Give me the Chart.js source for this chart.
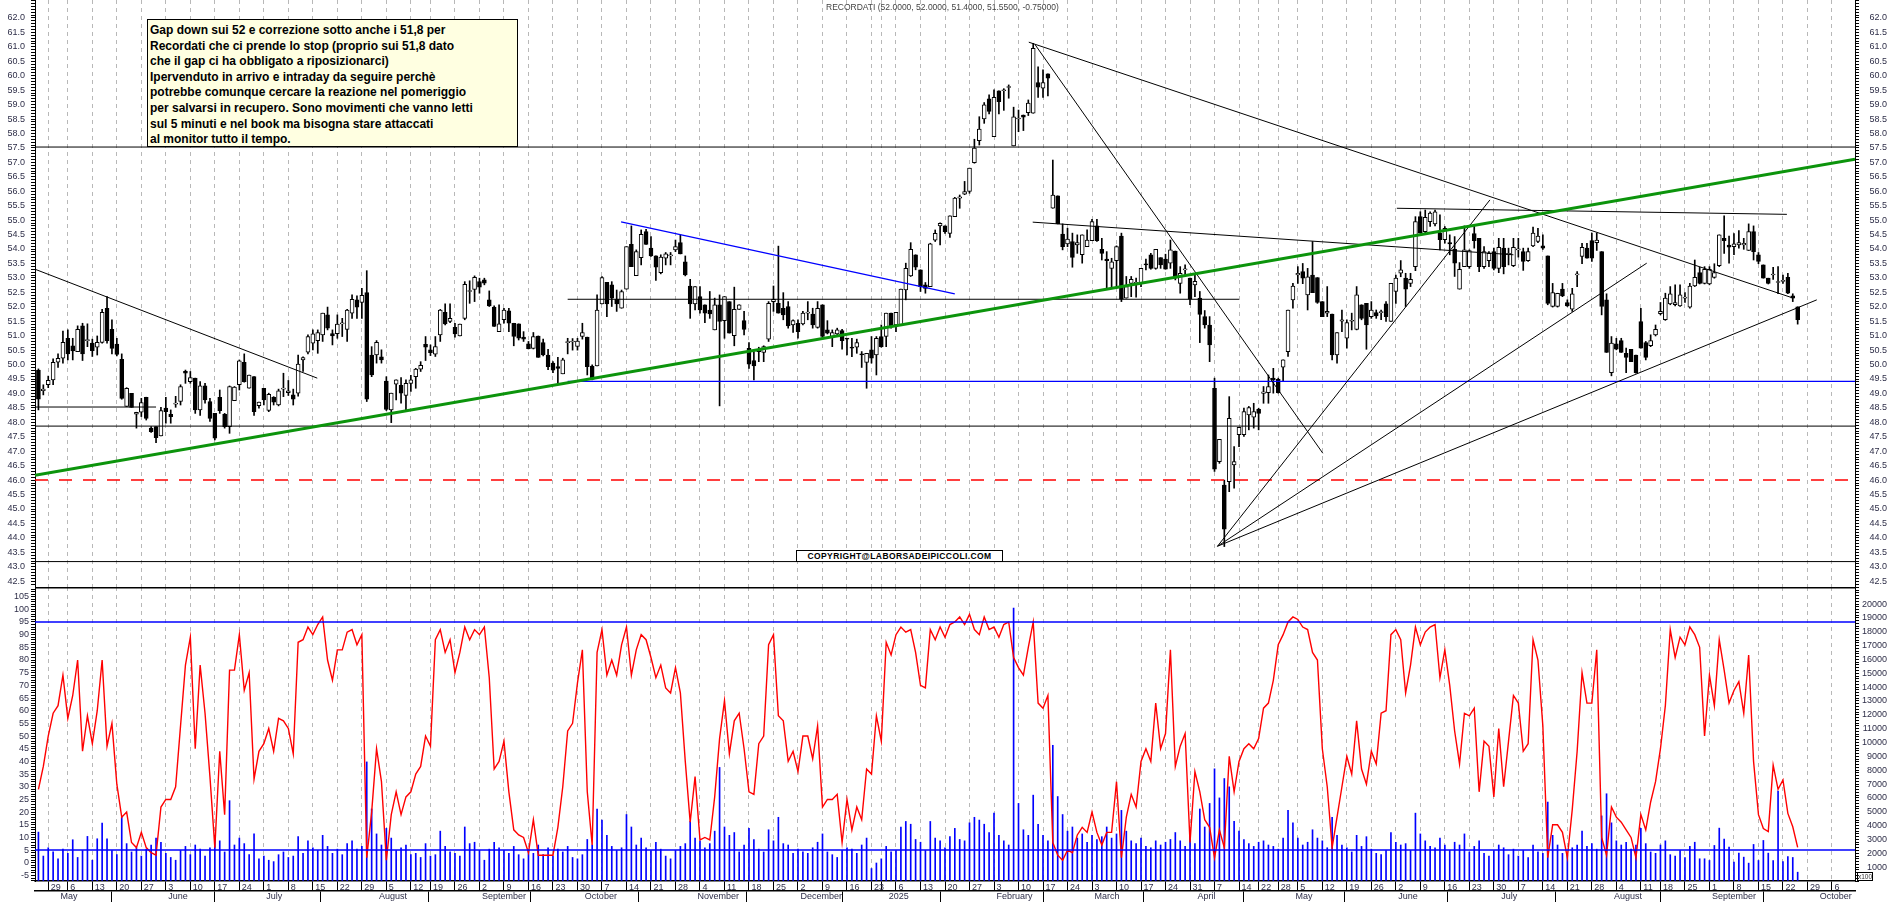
<!DOCTYPE html>
<html>
<head>
<meta charset="utf-8">
<script src="https://cdn.jsdelivr.net/npm/chart.js@4/dist/chart.umd.min.js"></script>
<style>
    html, body { margin: 0; padding: 0; background: #fff; }
    #wrap { position: relative; width: 1890px; height: 902px; overflow: hidden; }
    #price { position: absolute; left: 0; top: 0; }
    #lower { position: absolute; left: 0; top: 587px; }
    .title { position: absolute; left: 826px; top: 2px; font: 8.5px "Liberation Sans", Arial, sans-serif; color: #444; white-space: pre; }
    .note { position: absolute; left: 147px; top: 19px; width: 371px; height: 128px; box-sizing: border-box;
        background: #ffffe1; border: 1px solid #000; padding: 3px 0 0 2px; color: #000;
        font: bold 12px "Liberation Sans", Arial, sans-serif; line-height: 15.6px; white-space: pre; }
    .copy { position: absolute; left: 796px; top: 550px; width: 207px; height: 12px; box-sizing: border-box;
        background: #fff; border: 1px solid #000; font: bold 8.5px "Liberation Sans", Arial, sans-serif;
        line-height: 10px; letter-spacing: 0.4px; text-align: center; color: #000; }
    .x100 { position: absolute; left: 1857px; top: 872px; width: 16px; height: 9px; box-sizing: border-box;
        border: 1px solid #000; font: 6.5px "Liberation Sans", Arial, sans-serif; line-height: 7px; color: #333; }
</style>
</head>
<body>
<div id="wrap">
    <canvas id="price" width="1890" height="587"></canvas>
    <canvas id="lower" width="1890" height="315"></canvas>
    <div class="title">RECORDATI (52.0000, 52.0000, 51.4000, 51.5500, -0.75000)</div>
    <div class="note">Gap down sui 52 e correzione sotto anche i 51,8 per
Recordati che ci prende lo stop (proprio sui 51,8 dato
che il gap ci ha obbligato a riposizionarci)
Ipervenduto in arrivo e intraday da seguire perchè
potrebbe comunque cercare la reazione nel pomeriggio
per salvarsi in recupero. Sono movimenti che vanno letti
sul 5 minuti e nel book ma bisogna stare attaccati
al monitor tutto il tempo.</div>
    <div class="copy">COPYRIGHT@LABORSADEIPICCOLI.COM</div>
    <div class="x100">x100</div>
</div>
<script>
// Daily candles, one value per trading day starting 25 April 2024
const openP = [
    49.81, 49.10, 49.30, 49.47, 50.08, 50.22, 50.91, 50.65, 50.45, 51.34, 50.83, 50.74, 50.60, 50.77, 51.95, 51.22, 50.71, 50.18, 48.55, 49.00,
    48.28, 48.35, 48.87, 47.80, 47.85, 47.53, 48.49, 48.28, 48.63, 48.72, 49.77, 49.41, 49.53, 48.43, 49.26, 48.72, 48.31, 48.87, 48.28, 47.85,
    48.75, 49.30, 50.08, 49.18, 49.58, 48.58, 49.18, 48.41, 48.87, 48.60, 49.15, 49.03, 48.95, 49.01, 50.16, 50.43, 50.74, 50.83, 51.03, 51.72,
    51.07, 51.07, 51.41, 51.22, 51.78, 52.24, 52.15, 52.49, 50.33, 50.33, 50.27, 49.43, 48.43, 49.32, 49.28, 48.93, 49.35, 49.58, 49.84, 50.70,
    50.51, 50.36, 51.03, 51.81, 51.49, 51.29, 50.99, 51.60, 52.53, 52.60, 52.87, 52.93, 52.24, 51.99, 51.14, 51.55, 51.86, 51.43, 51.41, 50.95,
    50.72, 50.56, 50.99, 50.76, 50.33, 50.05, 49.93, 49.68, 50.76, 50.78, 50.63, 50.97, 50.95, 49.95, 49.95, 52.10, 52.85, 52.76, 52.26, 51.95,
    52.61, 54.16, 53.08, 53.70, 54.60, 54.03, 53.76, 53.18, 53.68, 53.76, 53.97, 54.22, 53.56, 52.72, 52.10, 52.35, 52.07, 51.89, 51.20, 52.07,
    51.52, 52.18, 51.00, 51.91, 51.52, 50.56, 50.14, 50.45, 50.42, 50.88, 52.18, 52.12, 51.95, 52.01, 51.37, 51.43, 51.41, 51.78, 51.75, 51.29,
    52.07, 51.20, 50.97, 51.06, 51.18, 50.91, 50.60, 50.60, 50.37, 50.07, 50.51, 50.33, 50.97, 50.97, 51.78, 51.37, 51.37, 52.58, 53.07, 53.80,
    53.28, 52.76, 52.70, 54.31, 54.80, 54.80, 54.54, 55.12, 55.76, 55.90, 55.99, 56.99, 57.75, 58.50, 59.20, 57.89, 59.48, 59.48, 59.59, 57.57,
    58.50, 58.64, 58.72, 58.70, 59.76, 59.57, 60.06, 55.41, 55.84, 54.52, 54.18, 54.26, 54.14, 53.80, 54.08, 54.29, 54.80, 53.99, 53.65, 53.33,
    53.60, 54.45, 52.30, 52.81, 52.81, 52.81, 53.47, 53.80, 53.33, 53.70, 53.65, 53.51, 53.93, 52.81, 53.28, 52.99, 52.76, 52.30, 51.66, 51.37,
    49.18, 46.64, 45.83, 45.95, 46.53, 47.57, 47.57, 48.26, 48.18, 48.45, 49.00, 49.03, 49.53, 49.49, 49.91, 50.45, 52.24, 53.10, 53.22, 52.41,
    53.10, 53.01, 52.18, 51.78, 51.75, 50.33, 51.50, 50.91, 51.50, 51.22, 52.07, 52.12, 51.66, 51.80, 51.80, 52.10, 51.49, 52.53, 53.16, 52.99,
    52.81, 53.39, 55.12, 54.60, 54.95, 54.87, 54.55, 54.32, 54.22, 53.99, 52.61, 53.39, 53.39, 54.53, 54.37, 53.39, 53.60, 53.91, 53.33, 54.03,
    53.80, 53.42, 53.97, 53.91, 53.60, 54.11, 54.26, 54.11, 53.76, 52.01, 52.01, 52.61, 52.15, 51.92, 53.10, 53.74, 54.03, 54.29, 54.22, 53.91,
    52.24, 49.72, 50.72, 50.83, 50.39, 50.53, 50.33, 51.49, 50.76, 50.65, 51.03, 51.76, 51.55, 52.10, 52.07, 52.03, 52.30, 51.99, 52.72, 53.18,
    52.81, 52.79, 53.02, 53.42, 54.37, 54.14, 54.08, 54.14, 54.14, 53.95, 54.60, 53.80, 53.45, 52.99, 53.10, 52.84, 52.88, 53.02, 52.38, 52.00
];
const highP = [
    49.85, 49.30, 49.60, 50.20, 50.37, 51.16, 51.20, 50.91, 51.34, 51.43, 51.41, 50.88, 50.99, 51.91, 52.35, 51.55, 50.91, 50.37, 49.20, 49.00,
    48.35, 48.83, 48.87, 47.85, 47.85, 48.52, 48.87, 48.43, 48.90, 49.30, 49.81, 49.76, 49.53, 49.41, 49.35, 48.83, 48.31, 49.12, 48.31, 49.26,
    49.24, 50.16, 50.37, 49.64, 49.58, 48.70, 49.18, 49.01, 48.89, 49.15, 49.70, 49.45, 49.15, 50.33, 50.27, 51.03, 51.20, 51.20, 51.78, 51.99,
    51.20, 51.72, 51.60, 51.91, 52.41, 52.38, 52.64, 53.25, 50.62, 50.83, 50.51, 49.58, 49.01, 49.47, 49.55, 49.47, 49.63, 49.87, 50.10, 50.97,
    50.68, 50.97, 51.91, 52.10, 52.10, 51.43, 51.40, 52.87, 52.90, 53.07, 52.99, 52.99, 52.55, 52.03, 52.07, 51.95, 51.95, 51.43, 51.41, 51.14,
    50.80, 51.11, 50.99, 50.88, 50.53, 50.10, 50.25, 50.22, 50.91, 50.90, 50.91, 51.43, 50.95, 49.99, 52.41, 53.05, 52.85, 52.87, 52.58, 52.58,
    54.08, 54.80, 53.97, 54.66, 54.68, 54.43, 53.76, 53.80, 53.88, 53.88, 54.31, 54.49, 53.76, 52.95, 52.70, 52.70, 52.07, 52.53, 52.30, 52.41,
    52.35, 52.18, 52.68, 52.07, 51.84, 50.76, 50.45, 50.60, 50.65, 52.18, 52.72, 54.10, 52.49, 52.18, 51.55, 51.55, 51.84, 52.18, 51.95, 52.18,
    52.07, 51.52, 51.20, 51.26, 51.22, 50.91, 50.91, 50.88, 50.45, 50.39, 50.97, 50.97, 51.37, 51.78, 51.78, 51.81, 52.61, 53.51, 54.22, 53.80,
    53.28, 52.84, 54.20, 54.66, 54.91, 54.80, 55.15, 55.79, 55.87, 56.34, 56.80, 57.80, 58.58, 59.07, 59.34, 59.51, 59.48, 59.55, 59.68, 58.91,
    58.81, 58.64, 59.16, 61.12, 60.31, 60.20, 60.06, 57.08, 55.84, 54.87, 54.72, 54.55, 54.49, 54.49, 54.66, 55.03, 55.03, 54.37, 53.91, 53.68,
    54.11, 54.55, 53.05, 53.05, 52.99, 53.33, 53.65, 53.85, 53.99, 53.70, 53.82, 54.31, 53.93, 53.39, 53.45, 52.99, 53.16, 52.53, 51.87, 51.66,
    49.53, 47.41, 46.00, 48.89, 47.16, 47.83, 48.49, 48.55, 48.66, 48.49, 49.24, 49.64, 49.87, 49.53, 50.16, 51.89, 52.81, 53.39, 53.50, 53.33,
    54.26, 53.01, 52.18, 52.70, 51.75, 51.11, 51.89, 51.55, 51.78, 52.70, 52.07, 52.12, 52.18, 51.89, 51.89, 52.18, 52.81, 53.10, 53.60, 53.16,
    53.16, 55.12, 55.29, 55.35, 55.29, 55.35, 55.18, 54.78, 54.49, 54.43, 53.53, 54.80, 53.97, 54.80, 54.37, 54.08, 53.91, 54.03, 54.37, 54.37,
    54.03, 54.37, 54.37, 54.03, 54.03, 54.76, 54.72, 54.49, 53.76, 52.81, 52.47, 52.81, 52.24, 52.64, 53.22, 54.20, 54.20, 54.55, 54.55, 53.91,
    52.45, 50.97, 50.91, 50.91, 50.57, 50.53, 50.33, 51.95, 50.80, 51.03, 51.37, 52.15, 52.47, 52.70, 52.76, 52.76, 52.49, 52.81, 53.62, 53.37,
    53.39, 53.39, 53.49, 54.49, 55.15, 54.45, 54.53, 54.64, 54.37, 54.87, 54.80, 53.88, 53.45, 52.99, 53.37, 53.39, 53.10, 53.16, 52.45, 52.00
];
const lowP = [
    48.43, 48.95, 49.20, 49.30, 49.90, 50.05, 50.16, 50.16, 50.45, 50.14, 50.62, 50.28, 50.33, 50.74, 50.74, 50.37, 50.30, 48.80, 48.55, 48.52,
    47.80, 48.20, 48.08, 47.65, 47.30, 47.53, 47.97, 47.97, 48.52, 48.60, 49.35, 49.35, 48.31, 48.24, 48.66, 48.03, 47.39, 48.31, 47.80, 47.62,
    48.75, 49.12, 49.39, 49.18, 48.24, 48.49, 48.60, 48.37, 48.60, 48.57, 48.89, 48.93, 48.60, 48.91, 49.76, 50.37, 50.51, 50.39, 50.80, 51.20,
    50.68, 50.91, 50.97, 50.80, 51.60, 51.60, 51.60, 48.72, 49.58, 50.05, 50.05, 48.41, 47.99, 48.78, 48.66, 48.43, 49.07, 49.18, 49.76, 50.14,
    50.31, 50.28, 50.80, 51.37, 51.45, 50.95, 50.99, 51.55, 52.12, 52.18, 52.47, 52.76, 52.01, 51.32, 51.14, 51.43, 51.14, 50.65, 50.85, 50.80,
    50.54, 50.54, 50.25, 50.30, 49.82, 49.72, 49.35, 49.68, 50.37, 50.50, 50.50, 50.88, 49.64, 49.47, 49.95, 52.10, 51.66, 52.01, 51.84, 51.95,
    52.61, 53.39, 53.08, 53.45, 54.16, 53.74, 52.91, 53.14, 53.45, 53.45, 53.91, 53.83, 53.07, 51.60, 51.89, 51.78, 51.45, 51.60, 51.20, 48.57,
    50.91, 51.09, 50.65, 51.91, 51.03, 49.87, 49.47, 50.10, 50.10, 50.80, 51.84, 51.78, 51.55, 51.26, 51.11, 50.91, 51.37, 51.55, 51.26, 51.26,
    50.88, 51.06, 50.62, 51.03, 50.53, 50.33, 50.27, 50.39, 49.90, 49.18, 50.05, 49.64, 50.60, 50.62, 51.26, 51.14, 51.37, 52.24, 53.05, 53.28,
    52.53, 52.47, 52.70, 54.26, 54.14, 54.54, 54.40, 55.12, 55.41, 55.88, 55.93, 56.97, 57.60, 58.35, 58.68, 57.89, 58.68, 58.80, 59.22, 57.57,
    58.06, 58.10, 58.62, 58.70, 59.25, 59.25, 59.30, 55.41, 54.87, 53.97, 54.08, 53.37, 53.85, 53.51, 54.08, 54.29, 54.26, 53.62, 52.64, 52.64,
    52.64, 52.18, 52.30, 52.35, 52.33, 52.70, 53.28, 53.30, 53.30, 53.33, 53.30, 53.33, 52.93, 52.47, 53.05, 52.07, 52.35, 50.76, 51.26, 50.10,
    46.30, 46.58, 43.70, 45.60, 45.72, 47.16, 47.51, 47.74, 47.80, 47.74, 48.66, 48.66, 49.01, 49.01, 49.41, 50.28, 51.95, 52.81, 52.80, 51.89,
    52.49, 52.12, 51.66, 51.66, 50.16, 50.05, 51.14, 50.57, 51.20, 51.20, 51.55, 50.53, 51.60, 51.60, 51.55, 51.49, 51.49, 52.12, 53.04, 52.01,
    52.70, 53.25, 54.55, 54.55, 54.78, 54.80, 53.97, 54.20, 53.80, 53.05, 52.61, 53.39, 53.33, 54.03, 53.22, 53.33, 53.39, 53.28, 53.18, 53.14,
    53.45, 53.39, 53.72, 53.26, 53.57, 54.08, 54.22, 53.99, 52.07, 51.99, 51.99, 52.35, 52.01, 51.84, 52.70, 53.49, 53.68, 53.57, 53.95, 51.72,
    50.42, 49.61, 50.51, 50.42, 49.72, 50.10, 49.70, 50.57, 50.16, 50.62, 50.99, 51.72, 51.53, 52.07, 52.03, 52.01, 52.15, 51.95, 52.70, 52.79,
    52.79, 52.76, 52.99, 53.39, 53.85, 53.51, 53.80, 54.03, 53.99, 53.95, 53.62, 53.49, 52.99, 52.79, 52.95, 52.45, 52.81, 52.45, 52.18, 51.40
];
const closeP = [
    48.80, 49.15, 49.45, 50.08, 50.22, 50.77, 50.37, 50.47, 51.22, 50.37, 50.83, 50.48, 50.77, 51.81, 50.83, 50.56, 50.35, 48.83, 49.18, 48.52,
    48.35, 48.68, 48.14, 47.68, 47.47, 48.41, 48.37, 48.20, 48.63, 49.24, 49.70, 49.55, 48.43, 49.26, 48.78, 48.14, 47.45, 48.40, 47.85, 49.24,
    49.22, 50.13, 49.41, 49.64, 48.37, 48.70, 48.78, 48.97, 48.70, 49.09, 49.15, 49.09, 48.80, 50.02, 50.24, 50.97, 51.06, 51.11, 51.78, 51.26,
    50.99, 51.40, 51.41, 51.89, 52.26, 51.99, 52.40, 48.80, 49.64, 50.77, 50.16, 48.45, 49.01, 49.47, 49.01, 49.35, 49.47, 49.84, 49.97, 50.60,
    50.41, 50.62, 51.89, 51.41, 51.60, 51.06, 51.40, 52.78, 52.53, 53.02, 52.68, 52.82, 52.03, 51.32, 51.41, 51.89, 51.43, 50.97, 50.91, 50.88,
    50.55, 50.97, 50.25, 50.33, 49.93, 49.81, 49.87, 50.16, 50.76, 50.78, 50.81, 51.11, 49.93, 49.49, 51.89, 53.01, 52.10, 52.30, 52.10, 52.53,
    54.08, 53.39, 53.91, 54.51, 54.16, 53.76, 53.37, 53.72, 53.83, 53.76, 54.08, 53.83, 53.10, 52.10, 52.70, 51.89, 51.78, 51.75, 52.07, 51.49,
    52.35, 51.09, 51.91, 52.07, 51.22, 50.01, 49.95, 50.53, 50.62, 52.12, 52.26, 51.78, 51.72, 51.34, 51.52, 51.14, 51.78, 51.78, 51.37, 51.95,
    50.97, 51.09, 51.11, 51.20, 50.83, 50.88, 50.57, 50.76, 50.33, 50.39, 50.22, 50.91, 50.62, 51.78, 51.34, 51.81, 52.61, 53.33, 53.99, 53.37,
    52.70, 52.64, 54.18, 54.54, 54.89, 54.60, 55.15, 55.76, 55.81, 55.99, 56.80, 57.49, 58.15, 58.99, 58.76, 59.25, 59.10, 59.50, 59.62, 58.58,
    58.50, 58.56, 59.05, 60.95, 59.60, 59.76, 59.91, 55.87, 54.87, 54.08, 54.34, 53.71, 54.22, 54.49, 54.31, 54.95, 54.29, 53.85, 53.60, 53.56,
    54.08, 52.26, 52.70, 52.95, 52.81, 53.33, 53.45, 53.33, 53.99, 53.45, 53.30, 53.97, 52.99, 53.16, 53.28, 52.26, 52.88, 51.74, 51.37, 50.68,
    46.38, 47.41, 44.30, 48.14, 46.64, 47.83, 48.37, 48.51, 48.37, 48.31, 49.06, 49.24, 49.47, 49.03, 50.16, 51.89, 52.72, 53.16, 52.99, 53.04,
    52.49, 52.15, 51.66, 51.84, 50.33, 51.11, 51.55, 51.45, 51.52, 52.41, 51.60, 51.37, 51.89, 51.68, 51.80, 51.66, 52.81, 52.99, 53.28, 52.61,
    52.95, 54.95, 54.55, 55.10, 55.24, 55.29, 54.32, 54.72, 54.18, 53.51, 53.30, 53.97, 53.95, 54.29, 53.39, 53.91, 53.85, 53.33, 54.06, 53.39,
    53.85, 54.06, 53.99, 53.57, 53.91, 54.55, 54.45, 54.03, 52.12, 52.49, 52.47, 52.38, 52.03, 52.45, 53.14, 54.06, 53.68, 53.68, 54.31, 52.01,
    50.42, 50.74, 50.53, 50.42, 50.25, 50.10, 49.72, 50.57, 50.25, 50.83, 51.22, 51.84, 52.30, 52.45, 52.15, 52.41, 52.30, 52.72, 53.02, 52.81,
    53.30, 53.30, 53.18, 54.49, 54.29, 54.06, 54.18, 54.22, 54.20, 54.60, 53.91, 53.57, 52.99, 52.81, 53.10, 52.84, 52.88, 52.47, 52.30, 51.55
];

// Lower panel: oscillator (left scale, 0-100)
const oscillator = [
    29, 38, 50, 59, 62, 74, 57, 66, 80, 44, 58, 47, 60, 80, 46, 55, 31, 18, 20, 8,
    6, 12, 6, 4, 3, 22, 25, 25, 30, 54, 78, 89, 45, 78, 59, 34, 6, 44, 19, 76,
    76, 90, 68, 75, 33, 44, 47, 53, 44, 57, 56, 53, 43, 87, 88, 93, 90, 94, 97, 80,
    72, 84, 84, 91, 92, 86, 90, 2, 20, 45, 32, 1, 19, 28, 19, 26, 28, 35, 38, 50,
    46, 88, 92, 83, 88, 75, 83, 93, 88, 92, 90, 93, 73, 37, 40, 48, 28, 13, 11, 10,
    4, 17, 3, 3, 3, 3, 14, 30, 52, 55, 71, 84, 28, 7, 83, 92, 74, 80, 74, 86,
    93, 74, 84, 90, 88, 81, 73, 78, 69, 67, 77, 67, 40, 16, 34, 9, 10, 9, 26, 49,
    64, 43, 56, 59, 45, 28, 27, 47, 50, 86, 90, 58, 56, 40, 44, 36, 50, 50, 41, 54,
    22, 25, 25, 27, 8, 25, 13, 22, 17, 37, 35, 58, 48, 87, 82, 90, 93, 91, 92, 83,
    70, 69, 92, 88, 93, 89, 94, 95, 97, 94, 98, 92, 90, 97, 92, 93, 89, 94, 95, 81,
    77, 74, 85, 95, 63, 61, 66, 8, 3, 1, 5, 4, 11, 14, 12, 20, 12, 7, 12, 12,
    32, 2, 18, 27, 22, 40, 45, 40, 63, 45, 51, 84, 38, 46, 51, 8, 36, 28, 17, 14,
    2, 13, 6, 42, 28, 40, 45, 47, 45, 49, 61, 63, 72, 86, 90, 95, 97, 96, 93, 92,
    83, 80, 45, 30, 6, 18, 30, 42, 35, 56, 37, 31, 44, 39, 59, 60, 90, 92, 88, 67,
    78, 93, 86, 91, 93, 94, 73, 84, 70, 52, 39, 59, 58, 61, 28, 48, 46, 26, 53, 30,
    48, 66, 63, 44, 47, 88, 80, 54, 2, 15, 15, 12, 2, 21, 44, 75, 63, 63, 84, 10,
    3, 22, 18, 16, 13, 10, 2, 19, 13, 24, 32, 45, 62, 92, 81, 89, 86, 93, 90, 85,
    50, 74, 62, 88, 76, 63, 68, 71.5, 59, 82, 40, 19, 13.5, 12.3, 38.5, 29, 32.7, 19.5, 14.2, 6.1
];
// Lower panel: volume (right scale, x100)
const volume = [
    3530, 1800, 2400, 2100, 1600, 2300, 2000, 2980, 1700, 2200, 3220, 1500, 3050, 4180, 3050, 2200, 1900, 4600, 2700, 2100,
    2400, 1800, 2300, 2600, 3100, 2800, 2000, 1700, 1500, 2200, 2500, 1900, 2600, 2300, 1800, 2400, 3300, 2900, 2100, 5800,
    2600, 3100, 2700, 1900, 3400, 1600, 1800, 1500, 1400, 1900, 2100, 1700, 1800, 3200, 2000, 2900, 2400, 2200, 3300, 2500,
    2000, 2300, 1900, 2700, 2900, 2300, 2500, 8600, 5200, 3400, 2600, 3800, 3100, 2200, 2400, 2600, 1900, 2000, 1700, 2700,
    1800, 1900, 3600, 2500, 2100, 2000, 1800, 3900, 2700, 2800, 2200, 1500, 2300, 2800, 2400, 2200, 2000, 2500, 1900, 1600,
    2200, 2000, 2600, 1900, 2400, 1800, 2300, 2100, 2500, 1700, 1600, 1900, 3000, 2600, 5200, 4400, 3300, 2500, 2200, 2400,
    4800, 3900, 2600, 3100, 2400, 2200, 2800, 2300, 1800, 1600, 2200, 2500, 2700, 4300, 3100, 2900, 2400, 2700, 3600, 8200,
    3900, 3300, 3500, 2100, 2600, 3800, 3000, 2300, 2100, 3700, 2900, 4600, 2700, 2600, 2000, 2300, 2100, 2000, 2400, 2800,
    3400, 2100, 1900, 1700, 2200, 2400, 2300, 2000, 2600, 3100, 900, 1300, 1600, 2500, 2100, 2200, 3900, 4300, 4100, 3000,
    2800, 2200, 4300, 3100, 2900, 2400, 3200, 3800, 3000, 2900, 4200, 4600, 4400, 4100, 3500, 4900, 3300, 2900, 2600, 19700,
    5600, 3700, 3300, 6200, 4100, 3300, 2900, 9800, 6100, 4800, 3600, 3900, 3100, 3400, 2800, 3300, 3000, 3200, 3900, 3100,
    3400, 5100, 3600, 2900, 2700, 3100, 2500, 2400, 2900, 2600, 2800, 3000, 3500, 2900, 2500, 3600, 2700, 5200, 3900, 5600,
    8100, 6000, 7400, 6800, 4300, 3600, 3000, 2700, 2500, 2800, 2900, 2600, 2500, 2300, 3100, 5100, 4200, 3100, 2600, 2800,
    3700, 3100, 2900, 2400, 4600, 3300, 2600, 2400, 2100, 3300, 2500, 3200, 2300, 2000, 1900, 2200, 3500, 2800, 2600, 2700,
    2200, 4900, 3400, 2900, 2500, 2400, 3100, 2600, 2200, 2800, 2600, 3400, 2100, 2500, 2900, 2000, 1800, 2200, 2600, 2400,
    1900, 2300, 1800, 2200, 1700, 2600, 2100, 2000, 5700, 3300, 2600, 2000, 1900, 2400, 2600, 3600, 2500, 2700, 2300, 4700,
    6300, 4200, 2900, 2600, 2800, 2300, 2600, 3800, 2700, 2100, 2000, 2600, 2900, 1900, 1800, 2200, 1700, 2500, 2800, 1605,
    1605, 1482, 2567, 3818, 3024, 2446, 1362, 2013, 1723, 1290, 2640, 1482, 2928, 2013, 1482, 6495, 1410, 1771, 1699, 636
];

// Calendar of the x axis: trading days, market holidays skipped
const firstDay = '2024-04-25';
const lastDay = '2025-10-10';
const closedDays = ['2024-05-01', '2024-08-15', '2024-12-24', '2024-12-25', '2024-12-26', '2024-12-31',
    '2025-01-01', '2025-04-18', '2025-04-21', '2025-05-01', '2025-08-15'];
const monthNames = ['January', 'February', 'March', 'April', 'May', 'June', 'July', 'August',
    'September', 'October', 'November', 'December'];

// Drawn lines on the price panel: [startDay, startPrice, endDay, endPrice]
const blackTrends = [
    [-0.7, 53.30, 56.9, 49.53],
    [202.1, 61.16, 358.1, 52.30],
    [203.4, 61.07, 262.1, 46.93],
    [202.9, 54.93, 301.0, 53.80],
    [277.2, 55.41, 356.8, 55.20],
    [240.6, 43.71, 296.2, 55.70],
    [240.6, 43.71, 328.2, 53.51],
    [240.6, 43.71, 362.9, 52.24],
    [-0.7, 48.53, 24.0, 48.53],
    [108.0, 52.26, 245.0, 52.26],
    [-0.7, 57.53, 370.7, 57.53],
    [-0.7, 47.87, 370.7, 47.87],
    [-0.7, 43.18, 370.7, 43.18]
];
const greenTrends = [[-0.7, 46.17, 370.7, 57.11]];
const blueTrends = [[118.9, 54.94, 187.0, 52.45], [108.0, 49.42, 370.7, 49.42]];
const redLevels = [[-0.7, 46.0, 370.7, 46.0]];
// Oscillator bands
const oscBands = [95, 5];

// Build the trading day list
let tradingDays = [];
for (let d = new Date(firstDay + 'T00:00:00Z'); d <= new Date(lastDay + 'T00:00:00Z'); d.setUTCDate(d.getUTCDate() + 1)) {
    const iso = d.toISOString().slice(0, 10);
    if (d.getUTCDay() === 0 || d.getUTCDay() === 6 || closedDays.includes(iso)) continue;
    tradingDays.push(new Date(d));
}

// Week starts (first trading day of each week) and month starts
let weekIdx = [], dayLabel = {}, monthIdx = [], monthLabel = {};
for (let i = 1; i < tradingDays.length; i++) {
    const d = tradingDays[i], p = tradingDays[i - 1];
    if (d.getUTCDay() <= p.getUTCDay()) {
        const prev = weekIdx[weekIdx.length - 1];
        dayLabel[i] = (prev !== undefined && i - prev < 3) ? '' : ' ' + d.getUTCDate();
        weekIdx.push(i);
    }
    if (d.getUTCMonth() !== p.getUTCMonth()) {
        monthLabel[i] = ' ' + (d.getUTCMonth() === 0 ? String(d.getUTCFullYear()) : monthNames[d.getUTCMonth()]);
        monthIdx.push(i);
    }
}

const xMin = -0.7;
const xMax = 370.7;
const labelFont = { family: '"Liberation Sans", Arial, sans-serif', size: 9 };
const labelColor = '#2e2e48';

function lineSets(list, color, width, dash) {
    return list.map(s => ({
        type: 'line',
        data: [{ x: s[0], y: s[1] }, { x: s[2], y: s[3] }],
        borderColor: color,
        borderWidth: width,
        borderDash: dash || [],
        pointRadius: 0,
        fill: false,
        order: 0,
        yAxisID: 'y'
    }));
}

function valueTicks(from, to, step) {
    let out = [];
    for (let k = Math.ceil(from / step - 1e-9); k * step <= to + 1e-9; k++) out.push({ value: +(k * step).toFixed(4) });
    return out;
}

// Keep the plot area flush with the canvas: no extra room for half labels
function noPad(s) {
    s.paddingTop = 0;
    s.paddingBottom = 0;
    s.paddingLeft = 0;
    s.paddingRight = 0;
}

function priceAxis(position, width, padding) {
    return {
        position: position, min: 42.3, max: 62.62,
        afterBuildTicks: s => { s.ticks = valueTicks(42.3, 62.62, 0.1); },
        ticks: {
            autoSkip: false, padding: padding, font: labelFont, color: labelColor,
            crossAlign: position === 'right' ? 'far' : 'near',
            callback: v => (Math.abs(v * 2 - Math.round(v * 2)) < 1e-6 && v <= 62.05) ? v.toFixed(1) : ''
        },
        grid: { drawOnChartArea: false, tickLength: 4, color: '#000', lineWidth: 1 },
        border: { color: '#000', width: 1 },
        afterFit: s => { s.width = width; noPad(s); }
    };
}

// Candles: wicks under bodies
const wickData = highP.map((h, i) => ({ x: i, y: [lowP[i], h] }));
const bodyData = openP.map((o, i) => ({ x: i, y: [o, closeP[i]] }));

new Chart(document.getElementById('price'), {
    type: 'bar',
    data: {
        datasets: [
            ...lineSets(greenTrends, '#0c940c', 3),
            ...lineSets(blackTrends, '#000', 1),
            ...lineSets(blueTrends, '#0000ff', 1.2),
            ...lineSets(redLevels, '#ff0000', 1.5, [13, 11]),
            {
                type: 'bar', data: bodyData, grouped: false, barThickness: 4, minBarLength: 1,
                backgroundColor: c => closeP[c.dataIndex] >= openP[c.dataIndex] ? '#fff' : '#000',
                borderColor: '#000', borderWidth: 1, borderSkipped: false, order: 1, yAxisID: 'y'
            },
            {
                type: 'bar', data: wickData, grouped: false, barThickness: 1,
                backgroundColor: '#000', borderWidth: 0, order: 2, yAxisID: 'y'
            }
        ]
    },
    options: {
        responsive: false, animation: false, devicePixelRatio: 1,
        layout: { padding: { left: 0, right: 3, top: 0, bottom: 0 }, autoPadding: false },
        plugins: { legend: { display: false }, tooltip: { enabled: false } },
        scales: {
            x: {
                type: 'linear', min: xMin, max: xMax, offset: false,
                afterBuildTicks: s => { s.ticks = weekIdx.map(v => ({ value: v })); },
                ticks: { display: false, autoSkip: false },
                grid: { color: '#b8b8b8', drawTicks: false, offset: false },
                border: { display: false, dash: [4, 4] },
                afterFit: s => { s.height = 0; noPad(s); }
            },
            y: priceAxis('right', 32, 8),
            yl: priceAxis('left', 35, 6)
        }
    }
});

// Line at the top of the lower panel
const topBorder = {
    id: 'topBorder',
    afterDraw(chart) {
        const { ctx, chartArea } = chart;
        ctx.save();
        ctx.strokeStyle = '#000';
        ctx.lineWidth = 1.5;
        ctx.beginPath();
        ctx.moveTo(chartArea.left, chartArea.top + 0.75);
        ctx.lineTo(chartArea.right, chartArea.top + 0.75);
        ctx.stroke();
        ctx.restore();
    }
};

new Chart(document.getElementById('lower'), {
    type: 'bar',
    data: {
        datasets: [
            ...oscBands.map(b => ({
                type: 'line', data: [{ x: xMin, y: b }, { x: xMax, y: b }],
                borderColor: '#0000ff', borderWidth: 1.5, pointRadius: 0, order: 0, yAxisID: 'osc'
            })),
            {
                type: 'line', data: oscillator.map((v, i) => ({ x: i, y: v })),
                borderColor: '#ff0000', borderWidth: 1.4, pointRadius: 0, tension: 0, order: 0, yAxisID: 'osc'
            },
            {
                type: 'bar', data: volume.map((v, i) => ({ x: i, y: v })), grouped: false, barThickness: 1,
                backgroundColor: '#0000ff', borderWidth: 0, order: 1, yAxisID: 'vol'
            }
        ]
    },
    options: {
        responsive: false, animation: false, devicePixelRatio: 1,
        layout: { padding: { left: 0, right: 3, top: 0, bottom: 0 }, autoPadding: false },
        plugins: { legend: { display: false }, tooltip: { enabled: false } },
        scales: {
            x: {
                type: 'linear', position: 'bottom', min: xMin, max: xMax, offset: false, weight: 0,
                afterBuildTicks: s => { s.ticks = weekIdx.map(v => ({ value: v })); },
                ticks: { autoSkip: false, maxRotation: 0, align: 'start', padding: -9, font: labelFont, color: labelColor,
                    callback: v => dayLabel[v] || '' },
                grid: { color: '#b8b8b8', tickLength: 10, tickColor: '#000', tickBorderDash: [], offset: false },
                border: { color: '#000', width: 1.5, dash: [4, 4] },
                afterFit: s => { s.height = 10; noPad(s); }
            },
            xm: {
                type: 'linear', position: 'bottom', min: xMin, max: xMax, offset: false, weight: 1,
                afterBuildTicks: s => { s.ticks = monthIdx.map(v => ({ value: v })); },
                ticks: { autoSkip: false, maxRotation: 0, align: 'start', padding: -11, font: labelFont, color: labelColor,
                    callback: v => monthLabel[v] || '' },
                grid: { drawOnChartArea: false, tickLength: 11, color: '#000' },
                border: { color: '#000', width: 1.5 },
                afterFit: s => { s.height = 11; noPad(s); }
            },
            osc: {
                position: 'left', min: -7.18, max: 108.8,
                afterBuildTicks: s => { s.ticks = valueTicks(-7, 108, 1); },
                ticks: { autoSkip: false, padding: 2, font: labelFont, color: labelColor,
                    callback: v => v % 5 === 0 ? String(v) : '' },
                grid: { drawOnChartArea: false, tickLength: 4, color: '#000' },
                border: { color: '#000', width: 1 },
                afterFit: s => { s.width = 35; noPad(s); }
            },
            vol: {
                position: 'right', min: 0, max: 21230,
                afterBuildTicks: s => { s.ticks = valueTicks(0, 21200, 200); },
                ticks: { autoSkip: false, padding: 8, font: labelFont, color: labelColor, crossAlign: 'far',
                    callback: v => (v % 1000 === 0 && v > 0 && v <= 20000) ? String(v) : '' },
                grid: { drawOnChartArea: false, tickLength: 4, color: '#000' },
                border: { color: '#000', width: 1 },
                afterFit: s => { s.width = 32; noPad(s); }
            }
        }
    },
    plugins: [topBorder]
});
</script>
</body>
</html>
